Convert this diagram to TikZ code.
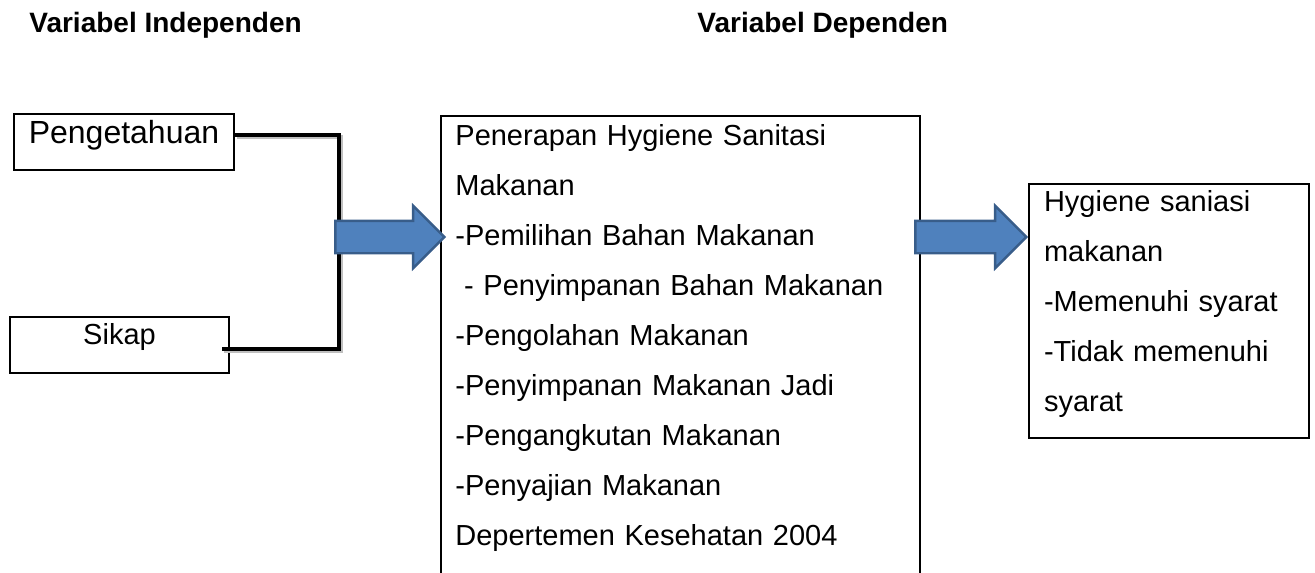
\documentclass[tikz,border=0pt]{standalone}
\usepackage{fontspec}
\setmainfont{Liberation Sans}
\usetikzlibrary{shapes.arrows,calc}
\definecolor{arrowfill}{HTML}{4F81BD}
\definecolor{arrowline}{HTML}{385D8A}

\begin{document}
\begin{tikzpicture}[x=0.5pt,y=-0.5pt,%
        boxline/.style={draw, line width=1pt},%
        varbox/.style={boxline, inner sep=0pt, align=center},%
        head/.style={font=\bfseries\fontsize{14}{16}\selectfont, anchor=base west, inner sep=0pt},%
        link/.style={line width=2pt, preaction={draw=black!25, line width=2pt,%
                        transform canvas={xshift=1.2pt,yshift=-1.2pt}}},%
        blockarrow/.style={single arrow, fill=arrowfill, draw=arrowline,%
                        line width=1.2pt, inner xsep=0pt, inner ysep=7.5pt,%
                        text height=0pt, text depth=0pt, minimum width=30pt,%
                        single arrow head extend=7.5pt, anchor=tip}]
            \useasboundingbox (0,0) rectangle (1315,572);
            \clip (0,0) rectangle (1315,572);
            \node[head] (indep) at (29,33) {Variabel Independen};
            \node[head] (depen) at (697,33) {Variabel Dependen};
            \node[varbox, minimum width=110pt, text height=15pt, text depth=13pt,%
                    font=\fontsize{16}{18}\selectfont, anchor=north west]
                    (peng) at (13,113) {Pengetahuan};
            \node[varbox, minimum width=109.5pt, text height=13.5pt, text depth=14.5pt,%
                    font=\fontsize{14.5}{17}\selectfont, anchor=north west]
                    (sikap) at (9,316) {Sikap};
            \node[anchor=north west, align=left, text width=225pt,%
                    inner xsep=7pt, inner ysep=4pt, font=\fontsize{14.5}{25}\selectfont]
                    (dep) at (441,116) {Penerapan Hygiene Sanitasi\\
                        Makanan\\
                        -Pemilihan Bahan Makanan\\
                        \hspace*{0.3em}- Penyimpanan Bahan Makanan\\
                        -Pengolahan Makanan\\
                        -Penyimpanan Makanan Jadi\\
                        -Pengangkutan Makanan\\
                        -Penyajian Makanan\\
                        Depertemen Kesehatan 2004};
            \draw[boxline] (dep.west |- 0,600) |- (dep.north east) -- (dep.east |- 0,600);
            \node[boxline, anchor=north west, align=left, text width=125pt,%
                    inner xsep=7.5pt, inner ysep=3pt, font=\fontsize{14.5}{25}\selectfont]
                    (res) at (1028,183) {Hygiene saniasi\\
                        makanan\\
                        -Memenuhi syarat\\
                        -Tidak memenuhi\\
                        syarat\rule[-10.5pt]{0pt}{10pt}};
            \coordinate (joint) at (339,237);
            \draw[link] ([yshift=3.5pt]peng.east) -| (joint)
                |- ([xshift=-4pt,yshift=-2pt]sikap.east);
            \node[blockarrow, minimum height=54.5pt] (arr1)
                at ($(dep.west |- joint)+(2.5pt,0)$) {};
            \node[blockarrow, minimum height=55.5pt] (arr2)
                at (res.west |- joint) {};
\end{tikzpicture}
\end{document}
